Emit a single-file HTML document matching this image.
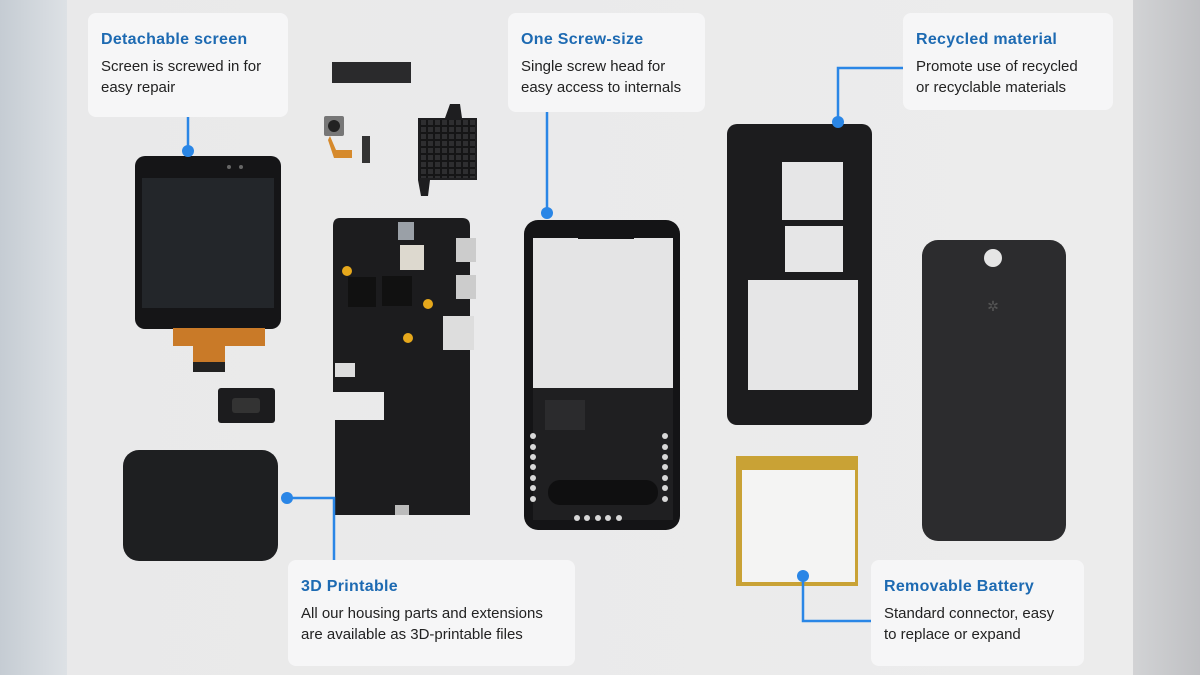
<!DOCTYPE html>
<html><head><meta charset="utf-8"><style>
html,body{margin:0;padding:0;width:1200px;height:675px;overflow:hidden}
body{background:linear-gradient(90deg,#c5ccd3 0,#dde1e5 67px,#e9e9ea 67px,#ececec 1133px,#d2d3d5 1133px,#bfc0c3 1200px);position:relative;font-family:"Liberation Sans",sans-serif}
.box{position:absolute;background:#f6f6f7;border-radius:8px}
.t{position:absolute;left:13px;top:18px;font-size:16px;font-weight:bold;color:#1d6ab2;letter-spacing:0.3px}
.b{position:absolute;left:13px;top:43px;font-size:15px;line-height:21px;color:#222}
svg{position:absolute;left:0;top:0}
</style></head><body>
<svg width="1200" height="675" viewBox="0 0 1200 675">
<defs><pattern id="hs" width="7" height="7" patternUnits="userSpaceOnUse"><rect width="7" height="7" fill="#151516"/><rect x="1" y="1" width="5" height="5" fill="#2e2e30"/></pattern></defs>
<!-- antenna -->
<rect x="332" y="62" width="79" height="21" fill="#2a2a2c"/>
<!-- camera -->
<rect x="324" y="116" width="20" height="20" rx="2" fill="#777"/><circle cx="334" cy="126" r="6" fill="#222"/>
<path d="M330 136 L336 150 L352 150 L352 158 L334 158 L328 140Z" fill="#d68a2c"/>
<rect x="362" y="136" width="8" height="27" fill="#333"/>
<!-- heatsink -->
<path d="M418 118 L445 118 L450 104 L460 104 L462 118 L477 118 L477 180 L430 180 L428 196 L421 196 L418 180Z" fill="#1e1e20"/>
<rect x="420" y="120" width="55" height="58" fill="url(#hs)"/>
<!-- screen -->
<rect x="135" y="156" width="146" height="173" rx="10" fill="#151517"/>
<rect x="142" y="178" width="132" height="130" fill="#23262a"/>
<circle cx="229" cy="167" r="2" fill="#666"/><circle cx="241" cy="167" r="2" fill="#666"/>
<rect x="173" y="328" width="92" height="18" fill="#c97a28"/>
<rect x="193" y="346" width="32" height="18" fill="#c97a28"/>
<rect x="193" y="362" width="32" height="10" fill="#222"/>
<!-- small part -->
<rect x="218" y="388" width="57" height="35" rx="3" fill="#1c1c1e"/>
<rect x="232" y="398" width="28" height="15" rx="3" fill="#333"/>
<!-- pad -->
<rect x="123" y="450" width="155" height="111" rx="16" fill="#1e1f21"/>
<!-- pcb -->
<path d="M340 218 L462 218 Q470 218 470 226 L470 515 L335 515 L335 420 L384 420 L384 392 L333 392 L333 226 Q333 218 340 218Z" fill="#1c1c1e"/>
<rect x="398" y="222" width="16" height="18" fill="#9aa0a7"/>
<rect x="400" y="245" width="24" height="25" fill="#ddd9cf"/>
<rect x="456" y="238" width="20" height="24" fill="#ccc"/><rect x="456" y="275" width="20" height="24" fill="#ccc"/>
<rect x="443" y="316" width="31" height="34" fill="#ddd"/>
<rect x="348" y="277" width="28" height="30" fill="#111"/><rect x="382" y="276" width="30" height="30" fill="#111"/>
<circle cx="347" cy="271" r="5" fill="#e6a81c"/><circle cx="428" cy="304" r="5" fill="#e6a81c"/><circle cx="408" cy="338" r="5" fill="#e6a81c"/>
<rect x="335" y="363" width="20" height="14" fill="#ddd"/>
<rect x="395" y="505" width="14" height="10" fill="#bbb"/>
<!-- frame -->
<rect x="524" y="220" width="156" height="310" rx="14" fill="#141416"/>
<rect x="533" y="238" width="140" height="150" fill="#e4e4e5"/>
<rect x="578" y="229" width="56" height="10" fill="#141416"/>
<rect x="533" y="388" width="140" height="132" fill="#1f1f21"/>
<rect x="545" y="400" width="40" height="30" fill="#2b2b2d"/>
<rect x="548" y="480" width="110" height="25" rx="12" fill="#0f0f10"/>
<g fill="#d8d8d8"><circle cx="533" cy="436" r="3"/><circle cx="533" cy="447" r="3"/><circle cx="533" cy="457" r="3"/><circle cx="533" cy="467" r="3"/><circle cx="533" cy="478" r="3"/><circle cx="533" cy="488" r="3"/><circle cx="533" cy="499" r="3"/>
<circle cx="665" cy="436" r="3"/><circle cx="665" cy="447" r="3"/><circle cx="665" cy="457" r="3"/><circle cx="665" cy="467" r="3"/><circle cx="665" cy="478" r="3"/><circle cx="665" cy="488" r="3"/><circle cx="665" cy="499" r="3"/>
<circle cx="577" cy="518" r="3"/><circle cx="587" cy="518" r="3"/><circle cx="598" cy="518" r="3"/><circle cx="608" cy="518" r="3"/><circle cx="619" cy="518" r="3"/></g>
<!-- mid frame -->
<rect x="727" y="124" width="145" height="301" rx="10" fill="#1c1c1e"/>
<rect x="782" y="162" width="61" height="58" fill="#e6e6e7"/>
<rect x="785" y="226" width="58" height="46" fill="#e6e6e7"/>
<rect x="748" y="280" width="110" height="110" fill="#e6e6e7"/>
<!-- back cover -->
<rect x="922" y="240" width="144" height="301" rx="16" fill="#2c2c2e"/>
<circle cx="993" cy="258" r="9" fill="#e5e5e5"/>
<text x="993" y="311" font-size="14" fill="#555" text-anchor="middle" font-family="DejaVu Sans">✲</text>
<!-- battery -->
<rect x="736" y="456" width="122" height="130" fill="#c9a235"/>
<rect x="742" y="470" width="113" height="112" fill="#f4f4f3"/>
<!-- connectors -->
<g stroke="#2a86e6" stroke-width="2.5" fill="none">
<path d="M188 117 V151"/><path d="M547 112 V213"/><path d="M903 68 H838 V122"/>
<path d="M287 498 H334 V560"/><path d="M803 576 V621 H871"/>
</g>
<g fill="#2a86e6"><circle cx="188" cy="151" r="6"/><circle cx="547" cy="213" r="6"/><circle cx="838" cy="122" r="6"/><circle cx="287" cy="498" r="6"/><circle cx="803" cy="576" r="6"/></g>
</svg>
<div class="box" style="left:88px;top:13px;width:200px;height:104px"><div class="t">Detachable screen</div><div class="b">Screen is screwed in for<br>easy repair</div></div>
<div class="box" style="left:508px;top:13px;width:197px;height:99px"><div class="t">One Screw-size</div><div class="b">Single screw head for<br>easy access to internals</div></div>
<div class="box" style="left:903px;top:13px;width:210px;height:97px"><div class="t">Recycled material</div><div class="b">Promote use of recycled<br>or recyclable materials</div></div>
<div class="box" style="left:288px;top:560px;width:287px;height:106px"><div class="t">3D Printable</div><div class="b">All our housing parts and extensions<br>are available as 3D-printable files</div></div>
<div class="box" style="left:871px;top:560px;width:213px;height:106px"><div class="t">Removable Battery</div><div class="b">Standard connector, easy<br>to replace or expand</div></div>
</body></html>
